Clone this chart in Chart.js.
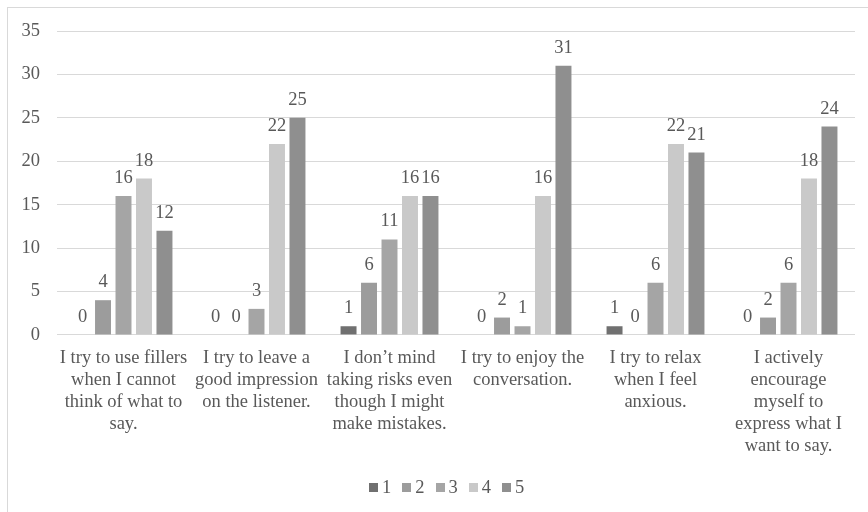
<!DOCTYPE html>
<html>
<head>
<meta charset="utf-8">
<script src="https://cdn.jsdelivr.net/npm/chart.js@4.4.1/dist/chart.umd.min.js"></script>
<style>
    html, body { margin: 0; padding: 0; background: #fff; overflow: hidden; }
    #wrap { position: relative; width: 868px; height: 512px; }
    #marco { position: absolute; left: 7px; top: 7px; width: 900px; height: 560px; border: 1px solid #d9d9d9; box-sizing: border-box; }
    #grafico { position: absolute; left: 0; top: 0; }
    #leyenda { position: absolute; left: 369px; top: 477px; display: flex; font-family: 'Liberation Serif', 'Times New Roman', serif; font-size: 18.5px; color: #595959; line-height: 20px; }
    #leyenda .item { display: flex; align-items: center; margin-right: 11px; }
    #leyenda .caja { width: 9px; height: 9px; margin-right: 4px; }
</style>
</head>
<body>
<div id="wrap">
    <div id="marco"></div>
    <canvas id="grafico" width="868" height="512"></canvas>
    <div id="leyenda"></div>
</div>
<script>
// Categories (multi-line labels)
const categorias = [
    ['I try to use fillers', 'when I cannot', 'think of what to', 'say.'],
    ['I try to leave a', 'good impression', 'on the listener.'],
    ['I don\u2019t mind', 'taking risks even', 'though I might', 'make mistakes.'],
    ['I try to enjoy the', 'conversation.'],
    ['I try to relax', 'when I feel', 'anxious.'],
    ['I actively', 'encourage', 'myself to', 'express what I', 'want to say.']
];

// Responses per scale point
const serie1 = [0, 0, 1, 0, 1, 0];
const serie2 = [4, 0, 6, 2, 0, 2];
const serie3 = [16, 3, 11, 1, 6, 6];
const serie4 = [18, 22, 16, 16, 22, 18];
const serie5 = [12, 25, 16, 31, 21, 24];

const nombresSerie = ['1', '2', '3', '4', '5'];
const colores = ['#707070', '#9c9c9c', '#a5a5a5', '#c9c9c9', '#8f8f8f'];

const TEXTO = '#595959';
const FUENTE = "'Liberation Serif', 'Times New Roman', serif";
const TAM = 18.5;

Chart.defaults.font.family = FUENTE;
Chart.defaults.font.size = TAM;
Chart.defaults.color = TEXTO;

// Value labels above each bar
const etiquetasValor = {
    id: 'etiquetasValor',
    afterDatasetsDraw(chart) {
        const ctx = chart.ctx;
        ctx.save();
        ctx.font = TAM + 'px ' + FUENTE;
        ctx.fillStyle = TEXTO;
        ctx.textAlign = 'center';
        ctx.textBaseline = 'alphabetic';
        chart.data.datasets.forEach((ds, i) => {
            const meta = chart.getDatasetMeta(i);
            meta.data.forEach((bar, j) => {
                ctx.fillText(String(ds.data[j]), bar.x, bar.y - 13);
            });
        });
        ctx.restore();
    }
};

const series = [serie1, serie2, serie3, serie4, serie5];

const grafico = new Chart(document.getElementById('grafico'), {
    type: 'bar',
    data: {
        labels: categorias,
        datasets: series.map((s, i) => ({
            label: nombresSerie[i],
            data: s,
            backgroundColor: colores[i],
            borderWidth: 0,
            categoryPercentage: 0.77,
            barPercentage: 0.78
        }))
    },
    options: {
        responsive: false,
        animation: false,
        devicePixelRatio: 1,
        layout: {
            padding: { left: 4.5, right: 13, top: 31, bottom: 43 }
        },
        plugins: {
            legend: { display: false },
            tooltip: { enabled: false }
        },
        scales: {
            x: {
                grid: { display: false, drawTicks: false },
                border: { display: false },
                ticks: {
                    autoSkip: false,
                    maxRotation: 0,
                    minRotation: 0,
                    padding: 12,
                    font: { size: TAM, lineHeight: 1.19 }
                }
            },
            y: {
                min: 0,
                max: 35,
                grid: { color: '#d9d9d9', drawTicks: false },
                border: { display: false },
                ticks: { stepSize: 5, padding: 17 }
            }
        }
    },
    plugins: [etiquetasValor]
});

// Legend built from the chart datasets
const leyenda = document.getElementById('leyenda');
leyenda.innerHTML = grafico.data.datasets.map(ds => `
    <div class="item"><span class="caja" style="background:${ds.backgroundColor}"></span>${ds.label}</div>
`).join('');
</script>
</body>
</html>
